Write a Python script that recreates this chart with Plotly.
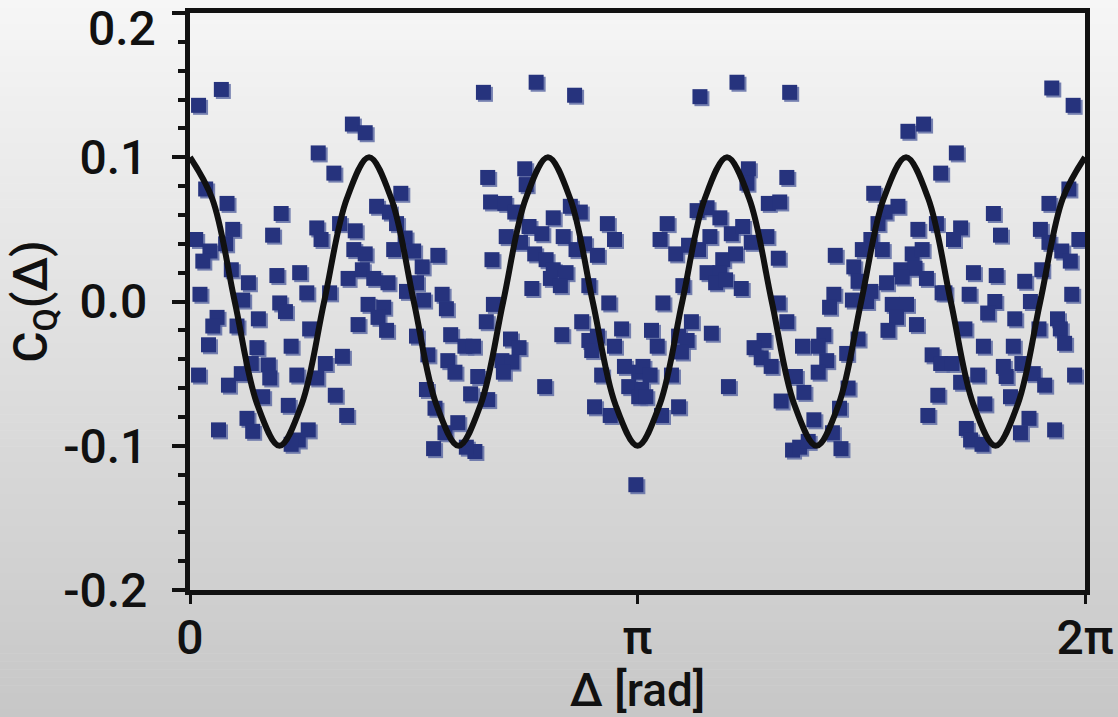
import plotly.graph_objects as go

# ---------------- data ----------------
delta_rad = [
    0.22, 0.06, 0.90, 1.01, 0.11, 0.26, 0.64, 0.04, 0.30, 0.58, 0.89, 0.92, 0.14, 0.09, 0.25, 0.29, 0.61, 0.77,
    0.07, 0.41, 0.37, 0.63, 0.67, 0.82, 0.98, 0.19, 0.16, 0.33, 0.48, 0.13, 0.47, 0.71, 0.84, 0.06, 0.27, 0.36,
    0.55, 0.56, 0.75, 0.43, 0.95, 0.89, 0.51, 0.69, 1.02, 0.40, 0.20, 0.44, 0.76, 0.83, 0.71,
    2.06, 1.14, 1.23, 2.09, 2.11, 1.48, 1.31, 1.40, 1.45, 1.05, 1.16, 1.51, 1.15, 1.23, 1.43, 1.57, 1.74, 2.12,
    1.63, 1.11, 1.21, 1.29, 1.39, 1.52, 1.59, 1.64, 1.25, 1.36, 1.77, 1.80, 1.32, 1.18, 1.38, 2.08, 2.13, 1.59,
    1.83, 1.07, 1.67, 1.81, 1.93, 1.99, 1.86, 2.02, 1.66, 1.97, 2.09, 1.10, 1.72, 1.79, 1.88, 1.71, 2.00, 1.94,
    2.43, 2.70, 2.35, 2.36, 2.21, 2.28, 2.67, 2.74, 2.55, 2.93, 2.98, 2.22, 2.38, 2.47, 2.32, 2.62, 2.77, 2.86,
    2.71, 2.42, 2.50, 2.55, 2.64, 2.53, 2.60, 2.40, 2.80, 2.94, 2.75, 3.03, 2.61, 2.25, 2.80, 2.31, 2.86, 2.98,
    2.82, 2.19, 2.26, 2.20, 3.05, 3.15, 2.89, 3.08, 3.15, 2.49, 2.84, 2.95, 3.13,
    3.58, 3.84, 4.21, 3.92, 3.91, 4.19, 3.56, 3.63, 3.72, 4.06, 4.14, 3.35, 3.30, 3.41, 3.50, 3.57, 3.65, 3.80,
    3.88, 3.94, 4.05, 4.13, 3.74, 3.83, 3.63, 3.72, 3.69, 3.76, 3.46, 3.87, 3.32, 4.13, 3.52, 3.66, 4.19, 3.24,
    3.43, 3.49, 3.28, 3.45, 4.03, 3.96, 4.01, 4.08, 3.18, 3.23, 3.38, 3.17, 3.20, 3.78, 4.15, 3.43, 3.31, 4.23,
    5.04, 5.15, 5.27, 4.80, 4.97, 4.88, 4.83, 5.11, 5.24, 4.78, 4.53, 4.72, 4.86, 5.07, 5.14, 4.66, 4.99, 5.09,
    4.69, 4.89, 5.00, 5.17, 4.52, 4.78, 4.49, 4.65, 4.75, 4.93, 5.03, 5.28, 4.96, 4.90, 5.10, 4.45, 4.69, 4.30,
    4.41, 4.47, 4.61, 5.21, 5.27, 4.41, 4.25, 4.31, 4.62, 5.25, 4.56, 5.18, 4.38, 4.51, 4.28, 4.34, 4.57,
    6.05, 6.20, 5.38, 6.17, 6.03, 5.64, 5.41, 5.36, 5.69, 5.97, 6.03, 6.24, 6.12, 6.18, 5.98, 5.50, 5.66, 5.86,
    5.30, 5.47, 6.19, 5.65, 5.90, 5.60, 5.79, 5.96, 6.09, 6.11, 5.44, 5.57, 5.78, 6.14, 5.35, 5.71, 5.84, 5.53,
    5.73, 5.92, 6.00, 6.21, 5.41, 5.76, 5.58, 5.89, 5.45, 5.48, 5.56, 5.83, 6.07,
]
c_q = [
    0.147, 0.136, 0.103, 0.089, 0.078, 0.068, 0.061, 0.043, 0.050, 0.046, 0.051, 0.043, 0.035, 0.028, 0.040, 0.022, 0.018, 0.020,
    0.005, 0.013, 0.001, -0.001, -0.007, 0.006, 0.006, -0.011, -0.017, -0.017, -0.012, -0.030, -0.032, -0.031, -0.019, -0.051, -0.058, -0.050,
    -0.044, -0.053, -0.051, -0.043, -0.043, -0.053, -0.066, -0.072, -0.065, -0.081, -0.089, -0.090, -0.096, -0.089, -0.099,
    0.145, 0.123, 0.117, 0.086, 0.069, 0.075, 0.066, 0.062, 0.054, 0.054, 0.049, 0.044, 0.036, 0.033, 0.036, 0.035, 0.032, 0.029,
    0.024, 0.016, 0.022, 0.016, 0.013, 0.007, 0.013, 0.001, -0.002, -0.004, 0.005, -0.005, -0.011, -0.016, -0.020, -0.014, -0.002, -0.024,
    -0.023, -0.038, -0.037, -0.041, -0.031, -0.031, -0.049, -0.052, -0.061, -0.064, -0.068, -0.079, -0.074, -0.091, -0.084, -0.102, -0.104, -0.101,
    0.152, 0.143, 0.092, 0.081, 0.068, 0.062, 0.066, 0.062, 0.058, 0.054, 0.043, 0.045, 0.052, 0.047, 0.041, 0.045, 0.040, 0.032,
    0.036, 0.033, 0.029, 0.022, 0.020, 0.016, 0.011, 0.009, 0.011, -0.001, -0.014, -0.019, -0.023, -0.026, -0.027, -0.032, -0.024, -0.031,
    -0.034, -0.041, -0.042, -0.049, -0.045, -0.049, -0.051, -0.059, -0.066, -0.059, -0.073, -0.079, -0.127,
    0.142, 0.152, 0.145, 0.092, 0.082, 0.086, 0.063, 0.065, 0.058, 0.068, 0.069, 0.054, 0.043, 0.033, 0.039, 0.036, 0.045, 0.047,
    0.052, 0.041, 0.045, 0.030, 0.029, 0.033, 0.020, 0.020, 0.013, 0.015, 0.011, 0.009, -0.001, -0.001, -0.014, -0.022, -0.014, -0.020,
    -0.024, -0.027, -0.031, -0.035, -0.027, -0.032, -0.039, -0.045, -0.045, -0.051, -0.051, -0.061, -0.066, -0.059, -0.069, -0.073, -0.079, -0.103,
    0.118, 0.123, 0.089, 0.075, 0.066, 0.062, 0.054, 0.050, 0.054, 0.043, 0.032, 0.036, 0.036, 0.033, 0.036, 0.024, 0.022, 0.023,
    0.014, 0.013, 0.017, 0.016, 0.005, 0.007, -0.004, 0.001, 0.000, -0.002, -0.002, 0.006, -0.011, -0.020, -0.016, -0.023, -0.026, -0.031,
    -0.031, -0.041, -0.036, -0.037, -0.043, -0.049, -0.052, -0.063, -0.060, -0.065, -0.074, -0.079, -0.082, -0.091, -0.101, -0.097, -0.102,
    0.148, 0.136, 0.103, 0.078, 0.068, 0.061, 0.051, 0.043, 0.046, 0.050, 0.041, 0.043, 0.035, 0.028, 0.022, 0.020, 0.018, 0.014,
    0.006, 0.005, 0.005, 0.000, 0.000, -0.008, -0.012, -0.019, -0.012, -0.019, -0.019, -0.031, -0.031, -0.029, -0.043, -0.045, -0.043, -0.051,
    -0.052, -0.050, -0.058, -0.051, -0.056, -0.066, -0.071, -0.081, -0.088, -0.096, -0.099, -0.091, -0.089,
]

# fitted curve, read at eighth-period steps (period 2*pi/5)
curve_x = [0.000, 0.157, 0.314, 0.471, 0.628, 0.785, 0.942, 1.100, 1.257, 1.414, 1.571, 1.728, 1.885, 2.042,
           2.199, 2.356, 2.513, 2.670, 2.827, 2.985, 3.142, 3.299, 3.456, 3.613, 3.770, 3.927, 4.084, 4.241,
           4.398, 4.555, 4.712, 4.869, 5.027, 5.184, 5.341, 5.498, 5.655, 5.812, 5.969, 6.126, 6.283]
curve_y = [0.1, 0.071, 0.0, -0.071, -0.1, -0.071, 0.0, 0.071,
           0.1, 0.071, 0.0, -0.071, -0.1, -0.071, 0.0, 0.071,
           0.1, 0.071, 0.0, -0.071, -0.1, -0.071, 0.0, 0.071,
           0.1, 0.071, 0.0, -0.071, -0.1, -0.071, 0.0, 0.071,
           0.1, 0.071, 0.0, -0.071, -0.1, -0.071, 0.0, 0.071, 0.1]

x_range = [0, 6.2831853]
y_range = [-0.2, 0.2]
x_tickvals = [0, 3.14159265, 6.2831853]
x_ticktext = ["0", "π", "2π"]
y_tickvals = [-0.2, -0.1, 0.0, 0.1, 0.2]
y_ticktext = ["-0.2", "-0.1", "0.0", "0.1", ""]

# ---------------- figure ----------------
W, H = 1118, 717
SH = 2                      # drop-shadow offset in px
PL, PT, PW, PH = 190, 13, 895, 577   # main plot box
ML, MT = PL, PT
MR = W - (PL + PW + SH)
MB = H - (PT + PH + SH)
aw, ah = PW + SH, PH + SH   # paper area

FONT = "Roboto, Liberation Sans, Arial, sans-serif"
INK = "#111111"
NAVY = "#26337d"
SHADOW = "rgba(95,108,165,0.85)"
FS = 48

fig = go.Figure()

# shadow copy of the markers on a hidden pair of axes shifted by SH px
fig.add_trace(go.Scatter(
    x=delta_rad, y=c_q, mode="markers", xaxis="x", yaxis="y",
    marker=dict(symbol="square", size=15, color=SHADOW, line=dict(width=0)),
    showlegend=False, hoverinfo="skip",
))
fig.add_trace(go.Scatter(
    x=delta_rad, y=c_q, mode="markers", xaxis="x2", yaxis="y2",
    marker=dict(symbol="square", size=15, color=NAVY, line=dict(width=0)),
    showlegend=False, hoverinfo="x+y",
))
fig.add_trace(go.Scatter(
    x=curve_x, y=curve_y, mode="lines", xaxis="x2", yaxis="y2",
    line=dict(color=INK, width=6, shape="spline", smoothing=1.0),
    showlegend=False,
))

# vertical background gradient (whole canvas)
shapes = []
n = 90
top_c, bot_c = 246, 199
for i in range(n):
    py0 = H * i / n
    py1 = H * (i + 1) / n + 0.6
    g = round(top_c + (bot_c - top_c) * (i + 0.5) / n)
    shapes.append(dict(
        type="rect", xref="paper", yref="paper", layer="below",
        x0=-ML / aw, x1=(W - ML) / aw,
        y0=(H - MB - py1) / ah, y1=(H - MB - py0) / ah,
        fillcolor=f"rgb({g},{g},{g})", line=dict(width=0),
    ))

hidden = dict(visible=False, showgrid=False, zeroline=False, fixedrange=True)
TF = dict(family=FONT, size=FS, color=INK, weight=500)

fig.update_layout(
    width=W, height=H,
    margin=dict(l=ML, r=MR, t=MT, b=MB, pad=0, autoexpand=False),
    paper_bgcolor="rgba(0,0,0,0)", plot_bgcolor="rgba(0,0,0,0)",
    shapes=shapes,
    font=dict(family=FONT, color=INK, size=FS),
    xaxis=dict(range=x_range, domain=[SH / aw, 1], anchor="y", **hidden),
    yaxis=dict(range=y_range, domain=[0, PH / ah], anchor="x", **hidden),
    xaxis2=dict(
        range=x_range, domain=[0, PW / aw], anchor="y2", automargin=False,
        showgrid=False, zeroline=False,
        showline=True, linewidth=5, linecolor=INK, mirror=True,
        ticks="outside", ticklen=9, tickwidth=3, tickcolor=INK,
        tickvals=x_tickvals, ticktext=x_ticktext,
        tickfont=TF,
        ticklabelstandoff=-8,
        title=dict(text="Δ [rad]", font=dict(family=FONT, size=46, color=INK, weight=500), standoff=8),
    ),
    yaxis2=dict(
        range=y_range, domain=[SH / ah, 1], anchor="x2", automargin=False,
        showgrid=False, zeroline=False,
        showline=True, linewidth=5, linecolor=INK, mirror=True,
        ticks="outside", ticklen=13, tickwidth=4, tickcolor=INK,
        tickvals=y_tickvals, ticktext=y_ticktext,
        tickfont=TF,
        ticklabelstandoff=15,
        minor=dict(ticks="outside", ticklen=7, tickwidth=4, tickcolor=INK, dtick=0.02, tick0=0),
        title=dict(text="C<sub>Q</sub>(Δ)", font=dict(family=FONT, size=FS, color=INK, weight=500), standoff=2),
    ),
    annotations=[dict(
        x=0, y=0.2, xref="x2 domain", yref="y2", text="0.2", showarrow=False,
        xanchor="right", yanchor="middle", xshift=-32, yshift=-15,
        font=TF,
    )],
)

fig.write_html("out.html", config={"displayModeBar": False},
               post_script="document.body.style.margin='0';")
